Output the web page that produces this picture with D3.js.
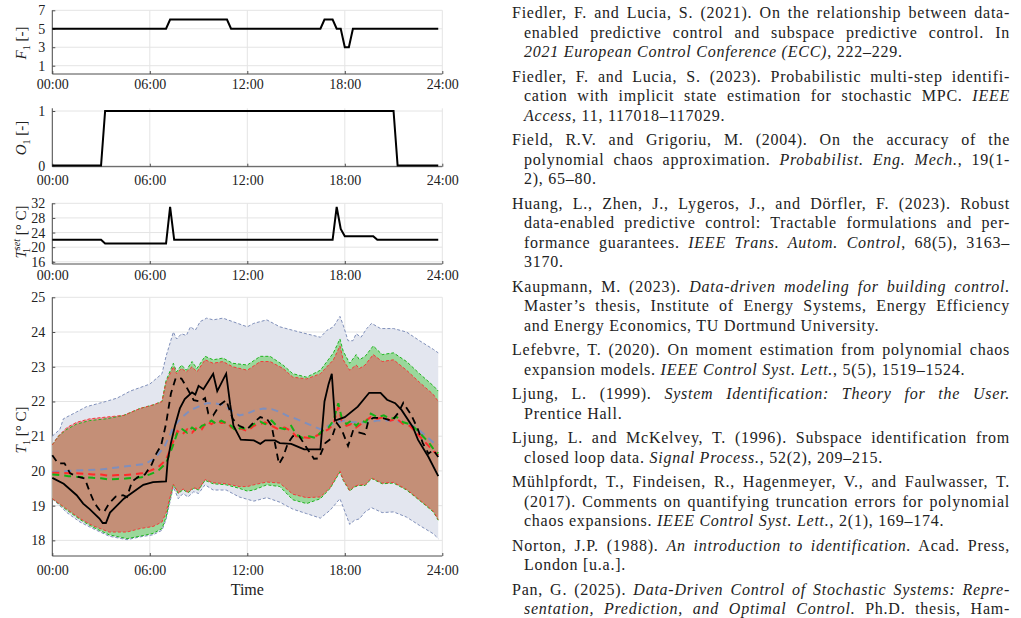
<!DOCTYPE html>
<html>
<head>
<meta charset="utf-8">
<script src="https://cdn.jsdelivr.net/npm/d3@7"></script>
<style>
  body { margin: 0; background: #fff; }
  text { font-family: "Liberation Serif", "Times New Roman", serif; fill: #222; }
</style>
</head>
<body>
<svg id="fig" width="1021" height="618"></svg>
<script>
// ---- data (hours, values) ----
const hourTicks = [0, 6, 12, 18, 24]
const hourLabels = ["00:00", "06:00", "12:00", "18:00", "24:00"]

const fanLevel = [[0,5],[7,5],[7.25,6],[10.75,6],[11,5],[16.5,5],[16.75,6],[17.25,6],[17.5,5],[17.75,5],[18,3],[18.25,3],[18.5,5],[23.75,5]]
const occupancy = [[0,0],[3,0],[3.25,1],[21,1],[21.25,0],[23.75,0]]
const setpoint = [[0,22],[3,22],[3.25,21],[7,21],[7.25,31],[7.5,22],[17.25,22],[17.5,31],[17.75,25],[18,23],[19.75,23],[20,22],[23.75,22]]

const blueHi = [[0,21.0],[0.47,21.2],[0.68,21.5],[1.5,21.7],[2.1,21.85],[2.9,21.95],[3.3,22.0],[4.0,22.1],[4.8,22.3],[5.4,22.4],[6.0,22.5],[6.75,22.8],[7.0,23.3],[7.45,24.0],[7.65,23.8],[7.95,23.95],[8.25,23.9],[8.5,24.15],[8.8,24.05],[9.1,24.3],[9.5,24.4],[9.9,24.35],[10.5,24.4],[11.1,24.3],[12.0,24.15],[12.4,24.25],[13.2,24.35],[14.0,24.15],[15.2,24.0],[16.5,23.85],[16.9,24.05],[17.3,24.15],[17.7,24.45],[17.9,24.2],[18.2,23.75],[18.5,23.75],[18.7,23.95],[19.0,23.85],[19.35,24.1],[19.65,24.25],[20.2,24.1],[21.0,24.1],[21.8,24.0],[22.6,23.75],[23.45,23.5],[23.75,23.4]]
const blueLo = [[0,19.2],[0.9,18.8],[1.7,18.53],[2.5,18.34],[3.5,18.12],[4.6,18.02],[5.4,18.1],[6.2,18.16],[6.75,18.29],[7.0,18.6],[7.45,19.54],[7.75,19.2],[8.05,19.35],[8.35,19.25],[8.7,19.4],[9.0,19.35],[9.4,19.6],[9.9,19.45],[10.7,19.45],[11.5,19.25],[12.4,19.13],[13.2,19.23],[14.0,19.1],[14.8,18.9],[15.65,18.77],[16.5,18.64],[17.1,18.87],[17.7,19.2],[17.9,18.96],[18.3,18.46],[18.6,18.58],[18.9,18.62],[19.25,18.82],[19.65,18.94],[20.3,18.8],[21.0,18.82],[21.8,18.67],[22.6,18.43],[23.45,18.19],[23.75,18.05]]
const greenHi = [[0,20.75],[0.37,21.0],[0.9,21.2],[1.5,21.35],[2.3,21.45],[3.3,21.5],[4.4,21.6],[5.4,21.8],[6.2,21.9],[6.75,22.0],[7.0,22.6],[7.45,23.1],[7.65,22.85],[7.95,23.05],[8.25,22.9],[8.6,23.15],[8.9,22.95],[9.4,23.3],[9.9,23.2],[10.5,23.25],[11.1,23.1],[12.0,23.05],[12.8,23.3],[13.4,23.3],[14.2,23.05],[14.8,22.8],[15.65,22.7],[16.5,22.9],[17.3,23.4],[17.7,23.8],[17.9,23.45],[18.3,23.1],[18.7,23.35],[18.9,23.2],[19.25,23.3],[19.75,23.6],[20.3,23.35],[21.0,23.4],[21.8,23.15],[22.6,22.8],[23.45,22.45],[23.75,22.3]]
const greenLo = [[0,19.2],[0.9,18.87],[1.7,18.6],[2.5,18.38],[3.5,18.16],[4.6,18.05],[5.4,18.12],[6.2,18.2],[6.75,18.34],[7.0,18.67],[7.45,19.6],[7.75,19.35],[8.05,19.46],[8.35,19.37],[8.7,19.5],[9.0,19.45],[9.4,19.73],[9.9,19.63],[10.7,19.6],[11.5,19.5],[12.0,19.42],[12.4,19.45],[13.2,19.6],[14.0,19.55],[14.8,19.17],[15.65,19.06],[16.5,19.2],[17.1,19.5],[17.7,19.97],[17.9,19.73],[18.3,19.42],[18.6,19.54],[18.9,19.58],[19.25,19.58],[19.65,19.78],[20.3,19.63],[21.0,19.65],[21.8,19.45],[22.6,19.15],[23.45,18.82],[23.75,18.58]]
const redHi = [[0,20.75],[0.37,21.0],[0.9,21.25],[1.5,21.4],[2.3,21.5],[3.3,21.55],[4.4,21.6],[5.4,21.8],[6.2,21.9],[6.75,22.0],[7.0,22.55],[7.45,23.0],[7.65,22.8],[7.95,22.95],[8.25,22.85],[8.6,23.0],[8.9,22.85],[9.4,23.2],[9.9,23.1],[10.5,23.15],[11.1,23.0],[12.0,22.9],[12.8,23.15],[13.4,23.15],[14.2,22.95],[14.8,22.7],[15.65,22.65],[16.5,22.8],[17.3,23.2],[17.7,23.6],[17.9,23.2],[18.3,22.9],[18.7,23.05],[18.9,22.95],[19.25,23.05],[19.75,23.35],[20.3,23.15],[21.0,23.2],[21.8,22.9],[22.6,22.55],[23.45,22.2],[23.75,22.0]]
const redLo = [[0,19.2],[0.9,18.9],[1.7,18.63],[2.5,18.42],[3.5,18.24],[4.6,18.24],[5.4,18.34],[6.2,18.4],[6.75,18.53],[7.0,18.8],[7.45,19.62],[7.75,19.37],[8.05,19.48],[8.35,19.39],[8.7,19.52],[9.0,19.47],[9.4,19.75],[9.9,19.66],[10.7,19.63],[11.5,19.55],[12.0,19.55],[12.4,19.6],[13.2,19.68],[14.0,19.65],[14.8,19.33],[15.65,19.23],[16.5,19.25],[17.1,19.52],[17.7,20.0],[17.9,19.75],[18.3,19.44],[18.6,19.56],[18.9,19.6],[19.25,19.6],[19.65,19.8],[20.3,19.65],[21.0,19.67],[21.8,19.47],[22.6,19.17],[23.45,18.84],[23.75,18.6]]

const blueMean = [[0,19.97],[1,20.0],[2,20.02],[3,20.04],[4,20.1],[5,20.16],[5.7,20.2],[6.3,20.36],[6.9,20.7],[7.2,21.0],[7.5,21.3],[8.0,21.55],[8.5,21.75],[9.0,21.85],[9.5,21.95],[10.0,21.95],[10.5,21.9],[11.0,21.75],[11.5,21.6],[12.0,21.65],[12.5,21.75],[13.0,21.8],[13.5,21.78],[14.0,21.7],[14.5,21.58],[15.0,21.5],[15.5,21.4],[16.0,21.3],[16.5,21.2],[17.0,21.3],[17.5,21.4],[18.0,21.45],[18.5,21.4],[19.0,21.4],[19.5,21.4],[20.0,21.45],[20.5,21.45],[21.0,21.45],[21.5,21.4],[22.0,21.35],[22.5,21.2],[23.0,21.0],[23.5,20.8],[23.75,20.75]]
const redMean = [[0,19.95],[0.5,19.95],[1,19.93],[1.5,19.93],[2,19.92],[2.5,19.9],[3,19.9],[3.5,19.86],[4,19.88],[4.5,19.88],[5,19.9],[5.5,19.93],[6,20.0],[6.5,20.1],[7.0,20.32],[7.4,20.8],[7.7,21.15],[8.0,21.05],[8.3,21.2],[8.6,21.1],[8.9,21.25],[9.2,21.2],[9.5,21.42],[9.8,21.35],[10.1,21.45],[10.4,21.38],[10.8,21.4],[11.0,21.25],[11.3,21.2],[11.6,21.22],[12.0,21.15],[12.4,21.3],[12.8,21.35],[13.1,21.4],[13.5,21.3],[13.9,21.2],[14.3,21.25],[14.7,21.15],[15.0,21.0],[15.4,20.97],[15.8,20.95],[16.2,21.0],[16.6,21.1],[17.0,21.2],[17.3,21.35],[17.6,21.85],[17.8,21.45],[18.1,21.3],[18.4,21.35],[18.7,21.25],[19.0,21.35],[19.3,21.45],[19.6,21.55],[20.0,21.5],[20.4,21.55],[20.8,21.45],[21.2,21.5],[21.6,21.35],[22.0,21.3],[22.4,21.1],[22.8,20.9],[23.2,20.7],[23.5,20.55],[23.75,20.45]]
const greenMean = [[0,19.9],[0.5,19.88],[1,19.85],[1.5,19.83],[2,19.82],[2.5,19.8],[3,19.79],[3.5,19.75],[4,19.77],[4.5,19.78],[5,19.8],[5.5,19.82],[6,19.9],[6.5,20.0],[7.0,20.22],[7.4,20.7],[7.7,21.1],[8.0,21.2],[8.3,21.1],[8.6,21.25],[8.9,21.15],[9.2,21.3],[9.5,21.35],[9.8,21.45],[10.1,21.35],[10.4,21.45],[10.8,21.35],[11.0,21.3],[11.3,21.15],[11.6,21.25],[12.0,21.2],[12.4,21.35],[12.8,21.42],[13.1,21.35],[13.5,21.45],[13.9,21.25],[14.3,21.2],[14.7,21.3],[15.0,21.05],[15.4,20.95],[15.8,21.0],[16.2,20.95],[16.6,21.15],[17.0,21.25],[17.3,21.45],[17.6,21.95],[17.8,21.55],[18.1,21.35],[18.4,21.45],[18.7,21.3],[19.0,21.45],[19.3,21.4],[19.6,21.65],[20.0,21.55],[20.4,21.6],[20.8,21.5],[21.2,21.55],[21.6,21.4],[22.0,21.35],[22.4,21.2],[22.8,21.0],[23.2,20.8],[23.5,20.6],[23.75,20.5]]
const measured = [[0,19.8],[0.7,19.63],[1.5,19.3],[1.9,19.06],[2.3,18.9],[2.9,18.63],[3.1,18.5],[3.3,18.5],[3.55,18.8],[4.4,19.2],[5.0,19.4],[5.6,19.6],[6.2,19.68],[7.0,19.7],[7.1,20.3],[7.3,20.8],[7.55,21.3],[7.85,21.8],[8.15,22.07],[8.6,22.26],[8.8,22.2],[9.0,22.45],[9.3,22.35],[9.9,22.8],[10.15,22.3],[10.7,22.8],[10.95,21.9],[11.15,21.3],[11.6,20.9],[12.4,20.88],[12.8,20.78],[13.1,20.88],[13.7,20.88],[14.0,20.8],[14.7,20.78],[15.1,20.7],[15.5,20.62],[16.5,20.62],[16.75,22.0],[17.0,22.5],[17.2,22.8],[17.4,21.45],[17.7,21.5],[18.0,21.55],[18.8,21.85],[19.5,22.25],[20.2,22.25],[20.6,22.05],[21.1,21.95],[21.5,21.75],[22.2,21.25],[22.5,20.9],[23.15,20.4],[23.75,19.85]]
const predicted = [[0,20.45],[0.35,20.22],[0.75,20.22],[1.1,19.93],[1.6,19.83],[2.0,19.78],[2.3,19.4],[2.6,19.07],[2.9,18.88],[3.2,18.83],[3.5,19.07],[3.9,19.26],[4.35,19.3],[4.6,19.25],[4.9,19.69],[5.3,19.83],[5.7,19.9],[6.1,20.17],[6.4,20.5],[6.7,20.74],[7.0,21.36],[7.3,22.23],[7.6,22.68],[7.95,22.66],[8.25,22.42],[8.7,22.04],[9.1,22.0],[9.4,22.1],[9.6,21.65],[9.9,21.6],[10.3,21.9],[10.7,22.04],[11.1,21.5],[11.5,21.3],[12.0,21.2],[12.4,21.4],[12.8,21.55],[13.2,21.5],[13.5,21.3],[13.7,20.8],[13.95,20.2],[14.2,20.4],[14.5,20.8],[14.8,21.0],[15.2,21.0],[15.6,20.7],[16.1,20.35],[16.4,20.36],[16.8,20.8],[17.2,20.95],[17.5,21.38],[17.8,21.2],[18.2,20.72],[18.5,21.15],[18.9,21.1],[19.25,21.06],[19.45,21.44],[19.75,21.53],[20.3,21.53],[20.9,21.44],[21.3,21.68],[21.6,21.96],[22.1,21.6],[22.5,21.2],[22.8,20.8],[23.15,20.5],[23.45,20.6],[23.75,20.4]]

// bibliography lines: [text, italic]
const bib = [
  [[["Fiedler, F. and Lucia, S. (2021). On the relationship between data-"]],
   [["enabled predictive control and subspace predictive control. In"]],
   [["2021 European Control Conference (ECC)", 1], [", 222–229."]]],
  [[["Fiedler, F. and Lucia, S. (2023). Probabilistic multi-step identifi-"]],
   [["cation with implicit state estimation for stochastic MPC. "], ["IEEE", 1]],
   [["Access", 1], [", 11, 117018–117029."]]],
  [[["Field, R.V. and Grigoriu, M. (2004). On the accuracy of the"]],
   [["polynomial chaos approximation. "], ["Probabilist. Eng. Mech.", 1], [", 19(1-"]],
   [["2), 65–80."]]],
  [[["Huang, L., Zhen, J., Lygeros, J., and Dörfler, F. (2023). Robust"]],
   [["data-enabled predictive control: Tractable formulations and per-"]],
   [["formance guarantees. "], ["IEEE Trans. Autom. Control", 1], [", 68(5), 3163–"]],
   [["3170."]]],
  [[["Kaupmann, M. (2023). "], ["Data-driven modeling for building control.", 1]],
   [["Master’s thesis, Institute of Energy Systems, Energy Efficiency"]],
   [["and Energy Economics, TU Dortmund University."]]],
  [[["Lefebvre, T. (2020). On moment estimation from polynomial chaos"]],
   [["expansion models. "], ["IEEE Control Syst. Lett.", 1], [", 5(5), 1519–1524."]]],
  [[["Ljung, L. (1999). "], ["System Identification: Theory for the User.", 1]],
   [["Prentice Hall."]]],
  [[["Ljung, L. and McKelvey, T. (1996). Subspace identification from"]],
   [["closed loop data. "], ["Signal Process.", 1], [", 52(2), 209–215."]]],
  [[["Mühlpfordt, T., Findeisen, R., Hagenmeyer, V., and Faulwasser, T."]],
   [["(2017). Comments on quantifying truncation errors for polynomial"]],
   [["chaos expansions. "], ["IEEE Control Syst. Lett.", 1], [", 2(1), 169–174."]]],
  [[["Norton, J.P. (1988). "], ["An introduction to identification.", 1], [" Acad. Press,"]],
   [["London [u.a.]."]]],
  [[["Pan, G. (2025). "], ["Data-Driven Control of Stochastic Systems: Repre-", 1]],
   [["sentation, Prediction, and Optimal Control.", 1], [" Ph.D. thesis, Ham-"]]]
]

const svg = d3.select("#fig")
const x = d3.scaleLinear().domain([0, 24]).range([52.3, 442.3])
const gridColor = "#e4e4e4"
const axisColor = "#4d4d4d"

function panel(y0, y1, domain, ticks, labelGap) {
  const y = d3.scaleLinear().domain(domain).range([y1, y0])
  const g = svg.append("g")
  // grid
  g.selectAll(".gy").data(ticks).enter().append("line")
    .attr("x1", x(0)).attr("x2", x(24))
    .attr("y1", d => y(d)).attr("y2", d => y(d))
    .attr("stroke", gridColor)
  g.selectAll(".gx").data(hourTicks).enter().append("line")
    .attr("x1", d => x(d)).attr("x2", d => x(d))
    .attr("y1", y0).attr("y2", y1)
    .attr("stroke", gridColor)
  // axes
  const yAxis = d3.axisLeft(y).tickValues(ticks).tickFormat(d3.format("d")).tickSize(-3).tickPadding(7)
  const ya = g.append("g").attr("transform", "translate(" + x(0) + ",0)").call(yAxis)
  ya.select(".domain").attr("d", "M0," + y0 + "V" + y1).attr("stroke", axisColor)
  ya.selectAll("line").attr("stroke", axisColor)
  ya.selectAll("text").style("font-size", "14px").style("font-family", "Liberation Serif").attr("fill", "#222")
  const xAxis = d3.axisBottom(x).tickValues(hourTicks).tickFormat((d, i) => hourLabels[i]).tickSize(-3).tickPadding(labelGap)
  const xa = g.append("g").attr("transform", "translate(0," + y1 + ")").call(xAxis)
  xa.select(".domain").attr("d", "M" + x(0) + ",0H" + x(24)).attr("stroke", axisColor)
  xa.selectAll("line").attr("stroke", axisColor)
  xa.selectAll("text").style("font-size", "14px").style("font-family", "Liberation Serif").attr("fill", "#222")
  return y
}

function ylabel(cy, parts) {
  const t = svg.append("text")
    .attr("transform", "translate(26," + cy + ") rotate(-90)")
    .attr("text-anchor", "middle")
    .style("font-size", "15px")
  parts.forEach(p => {
    const s = t.append("tspan").text(p.t)
    if (p.i) s.style("font-style", "italic")
    if (p.fs) s.style("font-size", p.fs + "px")
    if (p.dx) s.attr("dx", p.dx)
    if (p.dy) s.attr("dy", p.dy)
  })
}

const stepLine = (xs, ys) => d3.line().x(d => xs(d[0])).y(d => ys(d[1]))

// panel 1: F1
const y1 = panel(10.3, 74, [0.1, 7], [1, 3, 5, 7], 5)
svg.append("path").datum(fanLevel).attr("d", stepLine(x, y1)).attr("fill", "none").attr("stroke", "#000").attr("stroke-width", 2)
ylabel(43, [{t: "F", i: 1}, {t: "1", fs: 10, dy: 4}, {t: " [-]", dy: -4}])

// panel 2: O1
const y2 = panel(108.3, 166.7, [-0.02, 1.05], [0, 1], 8)
svg.append("path").datum(occupancy).attr("d", stepLine(x, y2)).attr("fill", "none").attr("stroke", "#000").attr("stroke-width", 2)
ylabel(138, [{t: "O", i: 1}, {t: "1", fs: 10, dy: 4}, {t: " [-]", dy: -4}])

// panel 3: T1 set
const y3 = panel(203.3, 264, [15.4, 32], [16, 20, 24, 28, 32], 6)
svg.append("path").datum(setpoint).attr("d", stepLine(x, y3)).attr("fill", "none").attr("stroke", "#000").attr("stroke-width", 2)
ylabel(232, [{t: "T", i: 1}, {t: "set", i: 1, fs: 10, dy: -6}, {t: "1", fs: 10, dx: -14, dy: 10}, {t: " [° C]", dx: 9, dy: -4}])

// panel 4: T1 with uncertainty bands
const y4 = panel(297.3, 556, [17.55, 25], [18, 19, 20, 21, 22, 23, 24, 25], 9)
const ln = stepLine(x, y4)
function band(hi, lo) {
  return ln(hi) + "L" + ln(lo.slice().reverse()).slice(1) + "Z"
}
const plot = svg.append("g")
plot.append("path").attr("d", band(blueHi, blueLo)).attr("fill", "#e3e6ef")
plot.append("path").attr("d", band(greenHi, greenLo)).attr("fill", "#9ad89b")
plot.append("path").attr("d", band(redHi, redLo)).attr("fill", "rgb(238,70,83)").attr("fill-opacity", 0.5)

const edges = [
  [blueHi, "#8090ba"], [blueLo, "#8090ba"],
  [greenHi, "#1fb51f"], [greenLo, "#1fb51f"],
  [redHi, "#f23a3a"], [redLo, "#f23a3a"]
]
edges.forEach(e => {
  plot.append("path").datum(e[0]).attr("d", ln).attr("fill", "none")
    .attr("stroke", e[1]).attr("stroke-width", 1).attr("stroke-dasharray", "3,2")
})

const means = [[blueMean, "#7f8fbd"], [redMean, "#ff2b2b"], [greenMean, "#17b017"]]
means.forEach(m => {
  plot.append("path").datum(m[0]).attr("d", ln).attr("fill", "none")
    .attr("stroke", m[1]).attr("stroke-width", 2).attr("stroke-dasharray", "7,5")
})
plot.append("path").datum(predicted).attr("d", ln).attr("fill", "none")
  .attr("stroke", "#000").attr("stroke-width", 1.8).attr("stroke-dasharray", "7,5")
plot.append("path").datum(measured).attr("d", ln).attr("fill", "none")
  .attr("stroke", "#000").attr("stroke-width", 1.8)

ylabel(430, [{t: "T", i: 1}, {t: "1", fs: 10, dy: 4}, {t: " [° C]", dy: -4}])
svg.append("text").attr("x", x(12)).attr("y", 595).attr("text-anchor", "middle")
  .style("font-size", "16px").text("Time")

// ---- bibliography ----
const bibLeft = 512, bibIndent = 524, bibRight = 1010
let by = 18
bib.forEach((entry, ei) => {
  entry.forEach((line, li) => {
    const lx = li ? bibIndent : bibLeft
    const t = svg.append("text").attr("x", lx).attr("y", by)
      .style("font-size", "16px").style("letter-spacing", "0.75px").style("white-space", "pre")
    line.forEach(seg => {
      const s = t.append("tspan").text(seg[0])
      if (seg[1]) s.style("font-style", "italic")
    })
    const justify = li < entry.length - 1 || ei === bib.length - 1
    if (justify) {
      const w = t.node().getComputedTextLength()
      const n = (line.map(s => s[0]).join("").match(/ /g) || []).length
      if (n) t.attr("word-spacing", ((bibRight - lx - w) / n).toFixed(2))
    }
    by += 19.5
  })
  by += 5
})
</script>
</body>
</html>
